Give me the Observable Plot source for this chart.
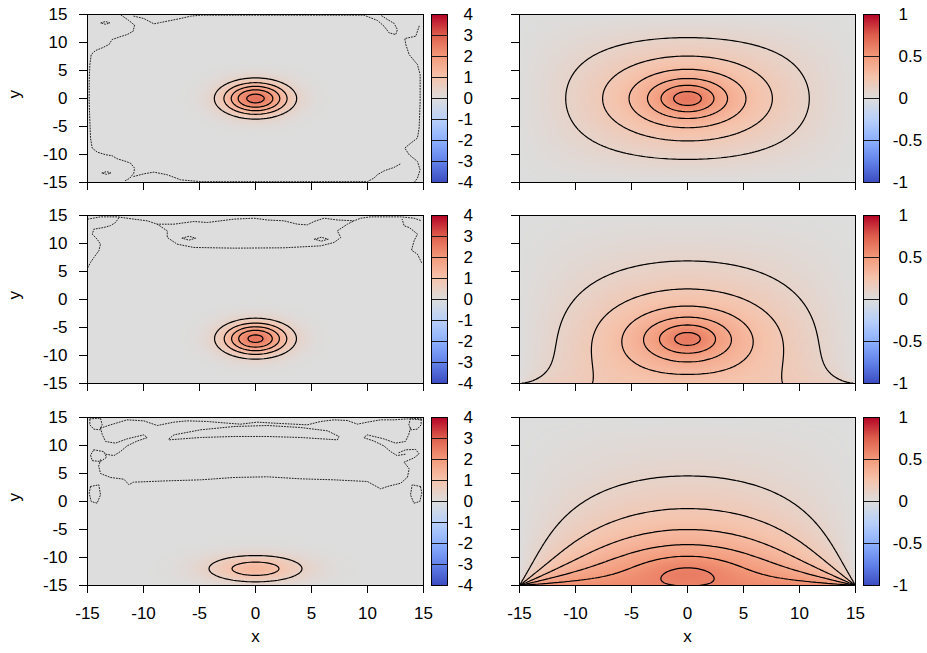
<!DOCTYPE html>
<html>
<head>
<meta charset="utf-8">
<script src="https://cdn.jsdelivr.net/npm/d3@7"></script>
<script src="https://cdn.jsdelivr.net/npm/@observablehq/plot@0.6"></script>
<style>
  body { margin: 0; background: #fff; }
  #chart { position: relative; width: 927px; height: 653px; font-family: "Liberation Sans", Arial, sans-serif; }
  #chart svg { position: absolute; overflow: visible; }
</style>
</head>
<body>
<div id="chart"></div>
<script>
// ---- axes and colour bars ----
const axisTicks = [-15, -10, -5, 0, 5, 10, 15];
const densityTicks = [-4, -3, -2, -1, 0, 1, 2, 3, 4];
const potentialTicks = [-1, -0.5, 0, 0.5, 1];
const densityLevels = [0.5, 1, 1.5, 2, 2.5];
const potentialLevels = [0.1, 0.2, 0.3, 0.4, 0.5, 0.6];

// ---- charge blobs (left column): centre, peak and spread ----
const blobX = [0, 0, 0];
const blobY = [0, -7, -12];
const blobPeak = [2.7, 2.65, 1.27];
const blobSx = [2, 2, 3.04];
const blobSy = [2, 2, 1.72];

// ---- forcing of the potential (right column) ----
const forceX = [0, 0, 0];
const forceY = [0, -7, -12.5];
const forceAmp = [0.157, 0.123, 0.038];
const forceSx = [1.3, 1.4, 2.5];
const forceSy = [1.3, 1.4, 1.4];

// potential prescribed along the bottom edge (sides and top are held at 0)
const edgeX = [-15, -12, -9, -6, -3, 0, 3, 6, 9, 12, 15];
const edgeTop = [0, 0, 0, 0, 0, 0, 0, 0, 0, 0, 0];
const edgeMid = [0.11, 0.155, 0.195, 0.225, 0.24, 0.245, 0.24, 0.225, 0.195, 0.155, 0.11];
const edgeBot = [0.55, 0.555, 0.56, 0.57, 0.59, 0.605, 0.59, 0.57, 0.56, 0.555, 0.55];
const edges = [edgeTop, edgeMid, edgeBot];

// ---- zero-level contours of the residual noise in the charge maps ----
const noiseTop = [
  [[-11.99,14.88],[-11.31,13.93],[-10.8,13.09],[-10.92,12.02],[-11.46,11.42],[-12.2,10.95],[-12.8,10.53],[-13.09,9.63],[-13.69,9.04],[-14.29,8.56],[-14.67,7.84],[-14.79,6.06],[-14.85,3.07],[-14.85,-0.5],[-14.79,-4.08],[-14.73,-7.06],[-14.58,-8.85],[-14.14,-9.57],[-13.39,-10.04],[-12.8,-10.22],[-12.35,-10.76],[-11.75,-11.12],[-11.16,-11.54],[-10.8,-12.43],[-10.86,-13.32],[-11.22,-14.22],[-11.75,-14.82]],
  [[-10.86,14.7],[-9.97,14.28],[-9.07,13.33],[-8.48,13.57],[-7.58,13.93],[-6.69,14.28],[-5.8,14.7],[-4.9,14.88],[9.69,14.88],[10.29,14.4],[10.89,13.93],[11.48,12.91],[11.93,11.72],[12.52,11.42],[12.67,12.3],[12.38,13.4],[11.78,14.11],[11.18,14.88]],
  [[14.61,12.91],[14.31,11.12],[13.33,10.71],[13.42,9.63],[13.72,7.84],[14.46,6.06],[14.7,4.27],[14.7,-0.5],[14.61,-5.27],[14.46,-7.06],[13.87,-7.96],[13.33,-8.85],[13.72,-10.04],[14.46,-11.24],[14.7,-12.73],[14.46,-14.22],[14.2,-14.9]],
  [[-10.86,-13.92],[-9.97,-13.45],[-9.07,-13.15],[-7.88,-13.62],[-6.69,-14.52],[-4.9,-14.85],[9.99,-14.85],[10.59,-14.2],[10.89,-13.6],[11.5,-12.9],[12.38,-12.3],[13.0,-11.6]],
  [[-13.8,13.5],[-13.4,13.75],[-13.0,13.5],[-13.4,13.25],[-13.8,13.5]],
  [[-13.7,-13.3],[-13.3,-13.05],[-12.9,-13.3],[-13.3,-13.55],[-13.7,-13.3]]
];
const noiseMid = [
  [[-14.97,14.35],[-13.84,14.76],[-12.35,14.76],[-10.86,14.35],[-9.67,14.05],[-8.77,13.45],[-7.28,13.45],[-5.5,13.93],[-4.31,13.75],[-3.11,14.05],[-1.92,14.35],[-0.14,14.52],[1.06,14.2],[2.55,14.05],[3.74,13.45],[4.63,13.33],[5.23,13.93],[6.12,14.52],[7.31,14.2],[8.8,14.05],[9.4,14.52],[10.29,14.76],[11.48,14.76],[12.97,14.76],[14.16,14.52],[14.82,14.05]],
  [[-8.77,13.45],[-7.88,12.26],[-7.88,11.07],[-6.99,9.88],[-5.5,9.29],[-1.92,9.17],[2.55,9.23],[5.82,9.58],[7.01,10.18],[7.61,11.07],[7.31,12.26],[8.2,13.45],[8.8,14.05]],
  [[-6.54,10.95],[-5.94,11.3],[-5.34,10.95],[-5.94,10.6],[-6.54,10.95]],
  [[5.28,10.77],[5.88,11.12],[6.48,10.77],[5.88,10.42],[5.28,10.77]],
  [[-14.97,5.71],[-14.73,6.6],[-14.43,7.5],[-13.99,8.69],[-13.84,9.88],[-14.14,10.77],[-14.58,11.67],[-14.43,12.56],[-13.54,12.86],[-12.94,13.2],[-12.5,13.75],[-12.2,14.6]],
  [[14.82,6.61],[14.46,8.1],[13.93,8.81],[14.16,10.48],[14.46,11.67],[14.1,12.26],[13.72,12.86],[13.27,13.15],[13.1,14.3]]
];
const noiseBot = [
  [[-13.84,13.1],[-12.94,13.69],[-11.46,14.58],[-9.97,14.4],[-8.77,13.57],[-7.28,14.17],[-6.09,14.4],[-4.31,14.29],[-2.52,13.99],[-1.33,13.81],[0.16,14.17],[1.65,13.99],[3.44,13.81],[4.63,13.69],[5.82,14.29],[7.01,14.58],[8.21,14.46],[9.1,13.81],[9.99,14.17],[11.18,14.58],[12.38,14.58],[13.57,14.76],[14.82,14.58]],
  [[-7.73,11.19],[-7.28,11.9],[-4.9,12.8],[-1.92,13.39],[1.06,13.57],[4.03,13.21],[6.42,12.62],[7.46,11.61],[7.31,11.01],[4.03,11.43],[1.06,11.61],[-1.92,11.61],[-4.9,11.43],[-7.73,11.01],[-7.73,11.19]],
  [[-14.79,14.76],[-13.84,14.88],[-13.69,13.69],[-13.9,12.8],[-14.43,12.92],[-14.79,13.69],[-14.79,14.76]],
  [[14.79,14.76],[13.84,14.88],[13.69,13.69],[13.9,12.8],[14.43,12.92],[14.79,13.69],[14.79,14.76]],
  [[-13.84,13.1],[-13.69,12.0],[-13.39,10.72],[-12.5,10.42],[-11.46,11.19],[-9.97,11.9],[-9.67,11.4],[-10.56,10.8],[-11.46,9.94],[-12.05,8.93],[-12.64,8.2],[-13.39,8.45]],
  [[13.84,13.1],[13.69,12.0],[13.39,10.72],[12.5,10.42],[11.46,11.19],[9.97,11.9],[9.67,11.4],[10.56,10.8],[11.46,9.94],[12.05,8.93],[12.64,8.2],[13.39,8.45]],
  [[-14.43,9.23],[-13.54,8.9],[-13.3,7.9],[-13.84,7.14],[-14.58,7.3],[-14.73,8.3],[-14.43,9.23]],
  [[-13.84,7.44],[-14.0,6.3],[-13.84,5.0],[-12.94,4.29],[-11.75,3.98],[-11.3,3.0],[-10.9,3.45],[-7.88,3.69],[-4.9,3.87],[-1.92,4.29],[1.06,4.41],[4.03,4.05],[7.01,3.87],[9.99,3.57],[11.18,2.26],[11.78,2.68],[12.97,3.27],[13.57,4.35],[13.72,5.83],[13.27,7.02],[14.16,7.8],[14.61,8.5],[14.3,9.3],[13.4,9.23],[12.67,8.6]],
  [[-14.73,2.68],[-13.99,2.98],[-13.84,1.19],[-14.14,-0.3],[-14.67,0.0],[-14.85,1.49],[-14.73,2.68]],
  [[14.73,2.68],[13.99,2.98],[13.84,1.19],[14.14,-0.3],[14.67,0.0],[14.85,1.49],[14.73,2.68]]
];
const noisePaths = [noiseTop, noiseMid, noiseBot];

// ---- grid and fields ----
const N = 121, H = 30 / (N - 1);
const gridX = d3.range(N).map(i => -15 + i * H);

// Gaussian charge blob sampled on the grid; row 0 is y = -15
function blobField(p) {
  const v = new Array(N * N);
  for (let j = 0; j < N; j++) for (let i = 0; i < N; i++) {
    const dx = (gridX[i] - blobX[p]) / blobSx[p], dy = (gridX[j] - blobY[p]) / blobSy[p];
    v[j * N + i] = blobPeak[p] * Math.exp(-0.5 * (dx * dx + dy * dy));
  }
  return v;
}

// -lap(u) = f in the box, solved by successive over-relaxation
function potentialField(p) {
  const u = new Float64Array(N * N), f = new Float64Array(N * N);
  const edge = d3.scaleLinear().domain(edgeX).range(edges[p]);
  for (let j = 0; j < N; j++) for (let i = 0; i < N; i++) {
    const dx = (gridX[i] - forceX[p]) / forceSx[p], dy = (gridX[j] - forceY[p]) / forceSy[p];
    f[j * N + i] = forceAmp[p] * Math.exp(-0.5 * (dx * dx + dy * dy));
  }
  for (let i = 1; i < N - 1; i++) u[i] = edge(gridX[i]);
  const w = 2 / (1 + Math.sin(Math.PI / (N - 1))), h2 = H * H;
  for (let it = 0; it < 1500; it++) {
    for (let j = 1; j < N - 1; j++) {
      const row = j * N;
      for (let i = 1; i < N - 1; i++) {
        const k = row + i;
        const gs = 0.25 * (u[k - 1] + u[k + 1] + u[k - N] + u[k + N] + h2 * f[k]);
        u[k] += w * (gs - u[k]);
      }
    }
  }
  return Array.from(u);
}

// ---- colours ----
const coolwarm = d3.piecewise(d3.interpolateRgb, ["#3b4cc0", "#6282ea", "#8db0fe", "#b8d0f9", "#dddddd", "#f5c4ad", "#f49a7b", "#de604d", "#b40426"]);
const font = "'Liberation Sans', Arial, sans-serif";
const FS = 17;
const panelTops = [13.5, 215, 416.5];
const PW = 336, PH = 168;
const chart = document.getElementById("chart");
const fmt = d => String(d);
const bounds = {x1: -15 - H / 2, x2: 15 + H / 2, y1: -15 - H / 2, y2: 15 + H / 2};

function place(el, left, top) {
  el.style.left = left + "px";
  el.style.top = top + "px";
  chart.appendChild(el);
}

function panel(values, {domain, levels, noise, row, col}) {
  const bottomRow = row === 2;
  const marks = [
    Plot.raster(values, {width: N, height: N, ...bounds, fill: Plot.identity, clip: true}),
    Plot.contour(values, {width: N, height: N, ...bounds, value: Plot.identity, thresholds: levels, stroke: "black", fill: "none", strokeWidth: 1.2, clip: true})
  ];
  if (noise) {
    const recs = noise.flatMap((path, k) => path.map(([x, y]) => ({x, y, k})));
    marks.push(Plot.line(recs, {x: "x", y: "y", z: "k", stroke: "#222", strokeWidth: 1, strokeDasharray: "1,1.8", clip: true}));
  }
  marks.push(Plot.frame({stroke: "black", strokeWidth: 1}));
  if (col === 0) marks.push(Plot.text(["y"], {frameAnchor: "left", dx: -73, rotate: -90, fontSize: FS}));
  if (bottomRow) marks.push(Plot.text(["x"], {frameAnchor: "bottom", dy: 56, fontSize: FS}));
  const svg = Plot.plot({
    width: 87 + PW + 4, height: 10 + PH + 70,
    marginLeft: 87, marginRight: 4, marginTop: 10, marginBottom: 70,
    style: {fontFamily: font, fontSize: FS + "px", color: "black", background: "transparent", overflow: "visible"},
    x: {domain: [-15, 15], ticks: axisTicks, tickSize: 8, tickPadding: 13, label: null, tickFormat: bottomRow ? fmt : () => ""},
    y: {domain: [-15, 15], ticks: axisTicks, tickSize: 8, tickPadding: 12, label: null, tickFormat: col === 0 ? fmt : () => ""},
    color: {type: "linear", domain, interpolate: coolwarm, clamp: true},
    marks
  });
  place(svg, col === 0 ? 0 : 432, panelTops[row] - 10);
}

function colorbar(ticks, {left, row, gap}) {
  const lo = ticks[0], hi = ticks[ticks.length - 1];
  const svg = Plot.plot({
    width: 16 + 60, height: PH + 20,
    marginLeft: 0, marginRight: 60, marginTop: 10, marginBottom: 10,
    style: {fontFamily: font, fontSize: FS + "px", color: "black", background: "transparent", overflow: "visible"},
    x: {domain: [0, 1], axis: null},
    y: {domain: [lo, hi], axis: null},
    color: {type: "linear", domain: [lo, hi], interpolate: coolwarm},
    marks: [
      Plot.raster({fill: (x, y) => y, x1: 0, x2: 1, y1: lo, y2: hi, pixelSize: 1}),
      Plot.ruleY(ticks.slice(1, -1), {stroke: "#1a1a1a", strokeWidth: 1}),
      Plot.frame({stroke: "black", strokeWidth: 1}),
      Plot.text(ticks.filter(d => d >= 0), {x: 1, y: d => d, text: fmt, textAnchor: "start", dx: gap, fontSize: FS}),
      Plot.text(ticks.filter(d => d < 0), {x: 1, y: d => d, text: fmt, textAnchor: "start", dx: gap - 5.7, fontSize: FS})
    ]
  });
  place(svg, left, panelTops[row] - 10);
}

for (let row = 0; row < 3; row++) {
  panel(blobField(row), {domain: [-4, 4], levels: densityLevels, noise: noisePaths[row], row, col: 0});
  colorbar(densityTicks, {left: 431, row, gap: 16});
  panel(potentialField(row), {domain: [-1, 1], levels: potentialLevels, noise: null, row, col: 1});
  colorbar(potentialTicks, {left: 863, row, gap: 19});
}
</script>
</body>
</html>
